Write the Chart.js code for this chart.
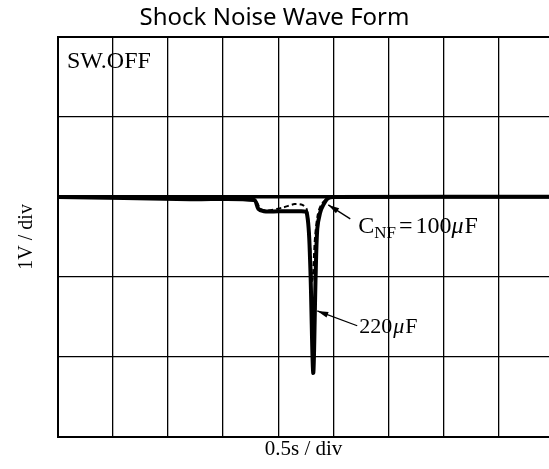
<!DOCTYPE html>
<html>
<head>
<meta charset="utf-8">
<script src="https://cdn.jsdelivr.net/npm/chart.js@4"></script>
<style>
  body { margin: 0; background: #fff; }
  #wrap { width: 549px; height: 469px; }
</style>
</head>
<body>
<div id="wrap"><canvas id="wave"></canvas></div>
<script>
// Tiempo en segundos (0.5 s por division) y tension en V (1 V por division)
const t220 = [0, 1.2, 1.78, 1.82, 1.87, 2.0, 2.2, 2.26, 2.29, 2.318, 2.34, 2.355, 2.38, 2.41, 2.45, 2.5, 4.5]
const v220 = [0, -0.03, -0.04, -0.15, -0.18, -0.18, -0.18, -0.2, -0.8, -2.2, -1.0, -0.4, -0.2, -0.1, -0.02, 0, 0]

const t100 = [0, 1.2, 1.78, 1.84, 1.9, 2.05, 2.15, 2.22, 2.26, 2.285, 2.31, 2.335, 2.36, 2.39, 2.43, 2.5, 4.5]
const v100 = [0, -0.02, -0.03, -0.15, -0.17, -0.13, -0.09, -0.1, -0.16, -0.5, -1.05, -0.5, -0.22, -0.1, -0.04, 0, 0]

const titulo = 'Shock Noise Wave Form'
const ejeX = '0.5s / div'
const ejeY = '1V / div'
const estado = 'SW.OFF'

const toPoints = (ts, vs) => ts.map((t, i) => ({ x: t, y: vs[i] }))

// Textos y flechas sobre el grafico (coordenadas en unidades de datos)
const anotaciones = {
  id: 'anotaciones',
  afterDraw(chart) {
    const { ctx, scales: { x, y }, chartArea } = chart
    const px = (v) => x.getPixelForValue(v)
    const py = (v) => y.getPixelForValue(v)

    const flecha = (x1, y1, x2, y2) => {
      ctx.save()
      ctx.strokeStyle = '#000'
      ctx.fillStyle = '#000'
      ctx.lineWidth = 1.3
      ctx.beginPath()
      ctx.moveTo(x1, y1)
      ctx.lineTo(x2, y2)
      ctx.stroke()
      const ang = Math.atan2(y2 - y1, x2 - x1)
      ctx.beginPath()
      ctx.moveTo(x2, y2)
      ctx.lineTo(x2 - 11 * Math.cos(ang) + 3 * Math.sin(ang), y2 - 11 * Math.sin(ang) - 3 * Math.cos(ang))
      ctx.lineTo(x2 - 11 * Math.cos(ang) - 3 * Math.sin(ang), y2 - 11 * Math.sin(ang) + 3 * Math.cos(ang))
      ctx.closePath()
      ctx.fill()
      ctx.restore()
    }

    ctx.save()
    ctx.fillStyle = '#000'
    ctx.textBaseline = 'alphabetic'
    ctx.font = '24px "Liberation Serif"'
    ctx.fillText(estado, chartArea.left + 9, chartArea.top + 31)

    // C_NF = 100uF
    flecha(px(2.655), py(-0.275), px(2.455), py(-0.1))
    let cx = px(2.727)
    const by = py(-0.45)
    const parte = (txt, font, dy = 0, gap = 0) => {
      ctx.font = font
      ctx.fillText(txt, cx, by + dy)
      cx += ctx.measureText(txt).width + gap
    }
    parte('C', '24px "Liberation Serif"')
    parte('NF', '17px "Liberation Serif"', 5, 3)
    parte('=', '24px "Liberation Serif"', 0, 3)
    parte('100', '24px "Liberation Serif"')
    parte('\u03bc', 'italic 24px "Liberation Serif"', 0, 1)
    parte('F', '24px "Liberation Serif"')

    // 220uF
    flecha(px(2.718), py(-1.61), px(2.355), py(-1.425))
    cx = px(2.736)
    const by2 = py(-1.7)
    ctx.font = '22px "Liberation Serif"'
    ctx.fillText('220', cx, by2)
    cx += ctx.measureText('220').width + 1
    ctx.font = 'italic 22px "Liberation Serif"'
    ctx.fillText('\u03bc', cx, by2)
    cx += ctx.measureText('\u03bc').width + 1
    ctx.font = '22px "Liberation Serif"'
    ctx.fillText('F', cx, by2)
    ctx.restore()
  }
}

window.addEventListener('load', () => {
  new Chart(document.getElementById('wave'), {
    type: 'line',
    data: {
      datasets: [{
        label: '100\u03bcF',
        data: toPoints(t100, v100),
        borderColor: '#000',
        borderWidth: 2,
        borderDash: [5, 3],
        pointRadius: 0,
        tension: 0.3,
        fill: false
      }, {
        label: '220\u03bcF',
        data: toPoints(t220, v220),
        borderColor: '#000',
        borderWidth: 4,
        pointRadius: 0,
        tension: 0.3,
        fill: false
      }]
    },
    options: {
      responsive: true,
      maintainAspectRatio: false,
      animation: false,
      layout: { padding: 0 },
      plugins: {
        legend: { display: false },
        tooltip: { enabled: false },
        title: {
          display: true,
          text: titulo,
          color: '#000',
          font: { family: '"Noto Sans"', size: 24, weight: 'normal' },
          padding: { top: 4, bottom: 4 }
        }
      },
      scales: {
        x: {
          type: 'linear',
          min: 0,
          max: 4.46,
          afterFit: (s) => { s.height = 32 },
          ticks: { display: false, stepSize: 0.5, includeBounds: false },
          grid: { color: '#000', lineWidth: 1.3, drawTicks: false },
          border: { display: true, color: '#000', width: 2 },
          title: {
            display: true,
            text: ejeX,
            color: '#000',
            font: { family: '"Liberation Serif"', size: 21 },
            padding: { top: 0, bottom: 7 }
          }
        },
        y: {
          min: -3,
          max: 2,
          afterFit: (s) => { s.width = 58 },
          ticks: { display: false, stepSize: 1 },
          grid: {
            color: '#000',
            drawTicks: false,
            lineWidth: (c) => c.tick.value === 0 ? 3.5 : (c.tick.value === 2 ? 2 : 1.3)
          },
          border: { display: true, color: '#000', width: 2 },
          title: {
            display: true,
            text: ejeY,
            color: '#000',
            font: { family: '"Liberation Serif"', size: 20 },
            padding: { top: 15, bottom: 0 }
          }
        }
      }
    },
    plugins: [anotaciones]
  })
})
</script>
</body>
</html>
